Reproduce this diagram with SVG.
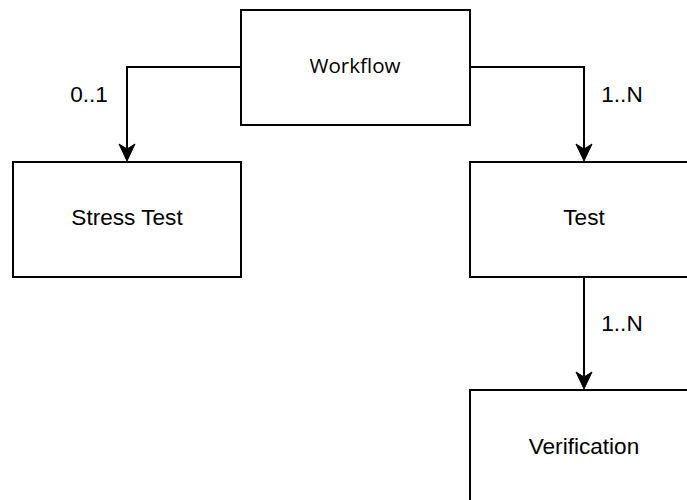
<svg xmlns="http://www.w3.org/2000/svg" width="687" height="500" viewBox="0 0 687 500">
  <style>
    .box { fill: #ffffff; stroke: #000000; stroke-width: 2; }
    .edge { fill: none; stroke: #000000; stroke-width: 2; }
    .head { fill: #000000; stroke: #000000; stroke-width: 1; stroke-linejoin: miter; }
    .lbl { font-family: "Liberation Sans", Arial, sans-serif; font-size: 22.6px; fill: #000000; }
    .wf { font-family: "Open Sans", "Noto Sans", sans-serif; font-size: 20.6px; fill: #000000; }
  </style>
  <rect width="687" height="500" fill="#ffffff"/>

  <g id="connectors">
    <!-- Workflow to Stress Test -->
    <path class="edge" d="M241,67 H127 V150"/>
    <path class="head" d="M127,161 L119,144 L127,149 L135,144 Z"/>
    <text class="lbl" x="89" y="102" text-anchor="middle">0..1</text>
    <!-- Workflow to Test -->
    <path class="edge" d="M470,67 H584 V150"/>
    <path class="head" d="M584,161 L576,144 L584,149 L592,144 Z"/>
    <text class="lbl" x="622" y="102" text-anchor="middle">1..N</text>
    <!-- Test to Verification -->
    <path class="edge" d="M584,277 V378"/>
    <path class="head" d="M584,389 L576,372 L584,377 L592,372 Z"/>
    <text class="lbl" x="622" y="331" text-anchor="middle">1..N</text>
  </g>

  <g id="workflow">
    <rect class="box" x="241" y="10" width="229" height="115"/>
    <text class="wf" x="355" y="73" text-anchor="middle">Workflow</text>
  </g>

  <g id="stress-test">
    <rect class="box" x="13" y="162" width="228" height="115"/>
    <text class="lbl" x="127" y="225" text-anchor="middle">Stress Test</text>
  </g>

  <g id="test">
    <rect class="box" x="470" y="162" width="228" height="115"/>
    <text class="lbl" x="584" y="225" text-anchor="middle">Test</text>
  </g>

  <g id="verification">
    <rect class="box" x="470" y="390" width="228" height="115"/>
    <text class="lbl" x="584" y="454" text-anchor="middle">Verification</text>
  </g>
</svg>
